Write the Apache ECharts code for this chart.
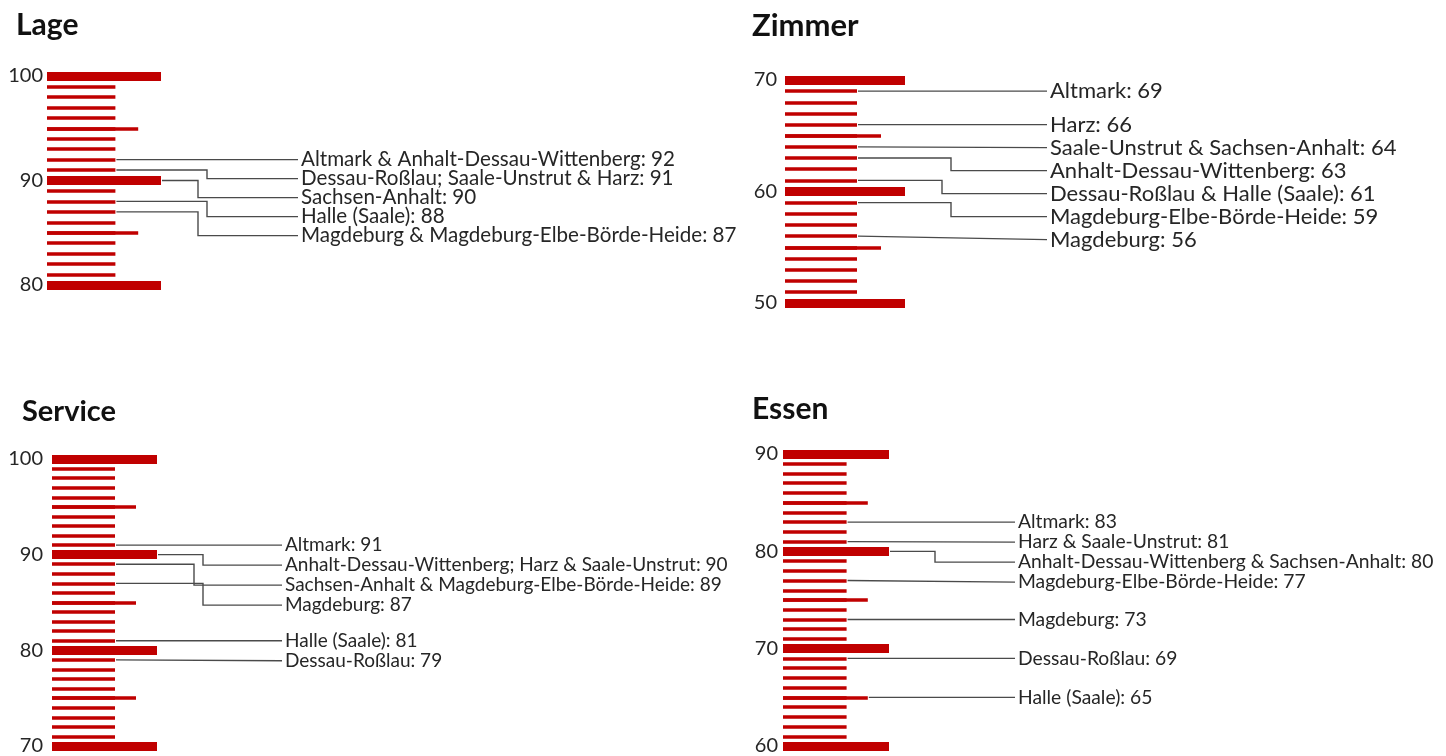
<!DOCTYPE html>
<html>
<head>
<meta charset="utf-8">
<script src="https://cdn.jsdelivr.net/npm/echarts@6/dist/echarts.min.js"></script>
<style>
  html, body { margin: 0; padding: 0; background: #fff; }
  #chart { width: 1446px; height: 756px; }
</style>
</head>
<body>
<div id="chart"></div>
<script>
// Daten je Kategorie
const lageRange = [80, 100];
const lageNames = ['Altmark & Anhalt-Dessau-Wittenberg', 'Dessau-Roßlau; Saale-Unstrut & Harz', 'Sachsen-Anhalt', 'Halle (Saale)', 'Magdeburg & Magdeburg-Elbe-Börde-Heide'];
const lageValues = [92, 91, 90, 88, 87];

const zimmerRange = [50, 70];
const zimmerNames = ['Altmark', 'Harz', 'Saale-Unstrut & Sachsen-Anhalt', 'Anhalt-Dessau-Wittenberg', 'Dessau-Roßlau & Halle (Saale)', 'Magdeburg-Elbe-Börde-Heide', 'Magdeburg'];
const zimmerValues = [69, 66, 64, 63, 61, 59, 56];

const serviceRange = [70, 100];
const serviceNames = ['Altmark', 'Anhalt-Dessau-Wittenberg; Harz & Saale-Unstrut', 'Sachsen-Anhalt & Magdeburg-Elbe-Börde-Heide', 'Magdeburg', 'Halle (Saale)', 'Dessau-Roßlau'];
const serviceValues = [91, 90, 89, 87, 81, 79];

const essenRange = [60, 90];
const essenNames = ['Altmark', 'Harz & Saale-Unstrut', 'Anhalt-Dessau-Wittenberg & Sachsen-Anhalt', 'Magdeburg-Elbe-Börde-Heide', 'Magdeburg', 'Dessau-Roßlau', 'Halle (Saale)'];
const essenValues = [83, 81, 80, 77, 73, 69, 65];

const RED = '#c00000';
const FONT = 'Lato, "Liberation Sans", sans-serif';

// Layout der vier Skalen
const panels = [
  { title: 'Lage', range: lageRange, names: lageNames, values: lageValues,
    left: 47, top: 76, width: 114, height: 209, titleX: 16, titleY: 10, titleSize: 30,
    labelX: 298, fontSize: 20.6, gap: 19, margin: 4 },
  { title: 'Zimmer', range: zimmerRange, names: zimmerNames, values: zimmerValues,
    left: 785, top: 80, width: 120, height: 223, titleX: 752, titleY: 10, titleSize: 31,
    labelX: 1047, fontSize: 22, gap: 23, margin: 8 },
  { title: 'Service', range: serviceRange, names: serviceNames, values: serviceValues,
    left: 52, top: 459, width: 105, height: 287, titleX: 22, titleY: 397, titleSize: 29,
    labelX: 282, fontSize: 19, gap: 20, margin: 9 },
  { title: 'Essen', range: essenRange, names: essenNames, values: essenValues,
    left: 783, top: 454, width: 106, height: 292, titleX: 752, titleY: 394, titleSize: 30,
    labelX: 1015, fontSize: 19.3, gap: 20, margin: 5 }
];

// Länge des Strichs relativ zur Breite (10er lang, 5er mittel, sonst kurz)
const tickLen = v => (v % 10 === 0 ? 1 : v % 5 === 0 ? 0.8 : 0.6);

const grid = [], xAxis = [], yAxis = [], series = [], title = [];

panels.forEach((p, i) => {
  grid.push({ left: p.left, top: p.top, width: p.width, height: p.height });
  title.push({
    text: p.title, left: p.titleX, top: p.titleY, padding: 0,
    textStyle: { fontFamily: FONT, fontSize: p.titleSize, fontWeight: 'bold', color: '#111' }
  });
  xAxis.push({ gridIndex: i, type: 'value', min: 0, max: 1, show: false });
  // Hauptachse: 10er Striche + 1er Striche
  yAxis.push({
    gridIndex: i, type: 'value', position: 'left', min: p.range[0], max: p.range[1], interval: 10, z: 3,
    axisLine: { show: false },
    splitLine: { show: false },
    axisTick: { show: true, inside: true, length: p.width, lineStyle: { color: RED, width: 9 } },
    minorTick: { show: true, splitNumber: 10, length: p.width * 0.6, lineStyle: { color: RED, width: 3.5 } },
    axisLabel: { fontFamily: FONT, fontSize: 20, color: '#262626', margin: p.margin }
  });
  // zweite Achse nur für die 5er Striche
  yAxis.push({
    gridIndex: i, type: 'value', position: 'left', offset: 0, min: p.range[0], max: p.range[1], interval: 5, z: 1,
    axisLine: { show: false },
    splitLine: { show: false },
    axisTick: { show: true, inside: true, length: p.width * 0.8, lineStyle: { color: RED, width: 3.5 } },
    axisLabel: { show: false }
  });

  series.push({
    type: 'custom',
    xAxisIndex: i,
    yAxisIndex: i * 2,
    z: 5,
    data: p.values.map((v, j) => [0, v, j]),
    renderItem: (params, api) => {
      const cs = params.coordSys;
      // Beschriftungen nach unten schieben, damit sie sich nicht überlappen
      let prev = -Infinity, elbow = 0;
      const slots = p.values.map(v => {
        let y = api.coord([0, v])[1];
        if (y < prev + p.gap) y = prev + p.gap;
        prev = y;
        return y;
      });
      const j = api.value(2);
      const v = api.value(1);
      const y0 = api.coord([0, v])[1];
      const x0 = cs.x + cs.width * tickLen(v) + 1;
      const ly = slots[j];
      let pts;
      if (Math.abs(ly - y0) < 4) {
        pts = [[x0, y0], [p.labelX, ly]];
      } else {
        for (let k = 0; k < j; k++) {
          const yk = api.coord([0, p.values[k]])[1];
          if (Math.abs(slots[k] - yk) >= 4) elbow++;
        }
        const ex = cs.x + cs.width + 46 - (elbow % 2) * 9;
        pts = [[x0, y0], [ex, y0], [ex, ly], [p.labelX, ly]];
      }
      return {
        type: 'group',
        children: [
          { type: 'polyline', shape: { points: pts }, style: { stroke: '#4a4a4a', lineWidth: 1.4, fill: null } },
          { type: 'text', x: p.labelX + 3, y: ly,
            style: { text: p.names[j] + ': ' + v, fill: '#262626', fontSize: p.fontSize, fontFamily: FONT, verticalAlign: 'middle', align: 'left' } }
        ]
      };
    }
  });
});

const chart = echarts.init(document.getElementById('chart'));
chart.setOption({
  animation: false,
  backgroundColor: '#fff',
  title, grid, xAxis, yAxis, series
});
</script>
</body>
</html>
